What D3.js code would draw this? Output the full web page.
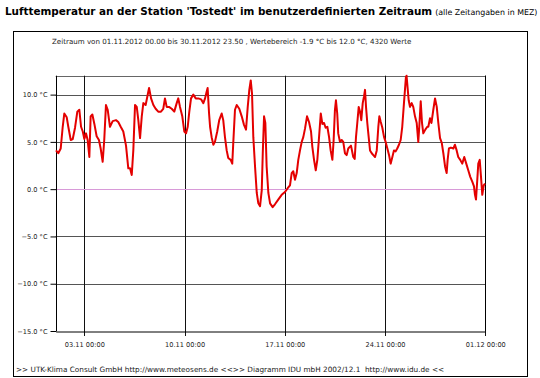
<!DOCTYPE html>
<html>
<head>
<meta charset="utf-8">
<script src="https://cdn.jsdelivr.net/npm/d3@7"></script>
<style>
  body { margin: 0; background: #fff; }
  text { font-family: "DejaVu Sans", Verdana, sans-serif; }
</style>
</head>
<body>
<div id="chart"></div>
<script>
// Lufttemperatur Tostedt, November 2012
const startDatum = new Date(2012, 10, 1, 0, 0);
// Zeit in Tagen seit 01.11.2012 00:00
const tage = [
  0.02, 0.18, 0.35, 0.49, 0.60, 0.77, 0.88, 1.05, 1.19, 1.35, 1.51, 1.65, 1.77, 1.89, 2.00, 2.12,
  2.23, 2.35, 2.44, 2.56, 2.70, 2.86, 3.02, 3.14, 3.28, 3.39, 3.51, 3.63, 3.79, 3.98, 4.21, 4.37,
  4.54, 4.72, 4.91, 5.07, 5.19, 5.31, 5.42, 5.54, 5.66, 5.77, 5.89, 6.01, 6.12, 6.28, 6.40, 6.52,
  6.66, 6.82, 6.98, 7.16, 7.35, 7.51, 7.63, 7.75, 7.91, 8.10, 8.28, 8.45, 8.56, 8.68, 8.84, 8.98,
  9.10, 9.22, 9.33, 9.45, 9.61, 9.78, 9.96, 10.15, 10.31, 10.43, 10.54, 10.61, 10.71, 10.78, 10.89,
  11.01, 11.12, 11.28, 11.42, 11.59, 11.70, 11.82, 11.94, 12.05, 12.22, 12.33, 12.40, 12.52, 12.64,
  12.82, 12.99, 13.15, 13.29, 13.41, 13.52, 13.62, 13.71, 13.80, 13.92, 14.04, 14.15, 14.27, 14.39,
  14.46, 14.55, 14.64, 14.73, 14.85, 14.97, 15.15, 15.31, 15.54, 15.78, 16.01, 16.20, 16.36, 16.48,
  16.59, 16.71, 16.83, 16.94, 17.06, 17.18, 17.29, 17.41, 17.55, 17.69, 17.83, 17.92, 18.04, 18.16,
  18.27, 18.39, 18.51, 18.62, 18.74, 18.85, 18.97, 19.09, 19.20, 19.32, 19.41, 19.50, 19.57, 19.66,
  19.73, 19.85, 19.97, 20.08, 20.20, 20.32, 20.43, 20.62, 20.78, 20.88, 20.97, 21.06, 21.16, 21.25,
  21.34, 21.44, 21.53, 21.60, 21.67, 21.76, 21.83, 21.95, 22.07, 22.18, 22.30, 22.42, 22.53, 22.60,
  22.70, 22.81, 22.93, 23.04, 23.16, 23.28, 23.39, 23.51, 23.62, 23.74, 23.85, 23.97, 24.09, 24.20,
  24.32, 24.39, 24.46, 24.50, 24.57, 24.65, 24.74, 24.86, 24.97, 25.09, 25.21, 25.32, 25.39, 25.49,
  25.58, 25.67, 25.81, 25.95, 26.02, 26.14, 26.24, 26.37, 26.49, 26.61, 26.72, 26.84, 26.96, 27.07,
  27.19, 27.30, 27.37, 27.46, 27.60, 27.77, 27.88, 28.00, 28.11, 28.25, 28.39, 28.53, 28.67, 28.81,
  28.95, 29.09, 29.21, 29.28, 29.35, 29.44, 29.51, 29.61, 29.70, 29.79, 29.89, 29.98
];
// Temperatur in °C
const temperatur = [
  4.1, 3.8, 4.3, 6.6, 8.0, 7.6, 6.6, 5.2, 5.3, 6.5, 8.2, 8.4, 6.6, 6.1, 5.3, 5.9,
  5.2, 3.4, 7.7, 7.9, 6.9, 5.6, 5.2, 4.3, 2.9, 5.2, 8.9, 8.4, 6.6, 7.2, 7.3, 7.1,
  6.6, 6.1, 4.6, 2.2, 2.2, 1.5, 4.1, 8.9, 8.7, 7.3, 5.4, 7.7, 9.1, 8.9, 9.8, 10.7,
  9.6, 8.9, 8.5, 8.2, 8.2, 8.5, 9.6, 8.7, 8.7, 8.5, 8.2, 9.1, 9.6, 8.7, 7.7, 6.1,
  5.9, 6.6, 8.2, 9.6, 10.0, 9.6, 9.6, 9.5, 9.1, 9.6, 10.3, 10.7, 8.0, 6.6, 5.5,
  4.7, 5.0, 6.1, 7.3, 8.0, 7.3, 5.5, 4.1, 3.3, 3.1, 2.7, 4.9, 8.4, 8.9,
  8.5, 7.7, 6.8, 6.3, 8.7, 10.5, 11.5, 10.1, 5.5, 2.4, -0.4, -1.5, -1.8, -0.1,
  3.8, 7.7, 7.0, 2.4, -0.4, -1.5, -1.9, -1.6, -1.1, -0.6, -0.3, 0.1, 0.4, 1.7,
  1.9, 1.0, 1.7, 3.1, 4.1, 5.0, 5.5, 6.4, 7.7, 7.1, 6.1, 4.5, 3.1, 2.0,
  3.1, 5.5, 8.0, 6.9, 7.0, 6.5, 6.6, 5.5, 4.1, 3.1, 5.2, 8.4, 9.4, 8.0,
  5.9, 5.0, 5.2, 5.0, 3.8, 3.6, 4.3, 4.6, 3.4, 3.2, 5.5, 7.0, 8.7, 8.2,
  7.3, 9.1, 9.8, 10.5, 8.7, 7.0, 5.9, 4.1, 3.8, 3.6, 3.4, 4.1, 6.6, 7.7,
  7.1, 6.5, 5.5, 5.0, 4.3, 3.6, 2.7, 3.4, 4.1, 4.0, 4.3, 4.7, 5.2, 6.6,
  9.1, 10.5, 11.9, 12.0, 10.8, 9.4, 8.7, 9.1, 8.7, 7.7, 7.0, 5.0, 6.6, 9.3,
  7.0, 5.9, 6.3, 6.6, 6.6, 7.5, 7.0, 8.4, 9.6, 8.7, 7.0, 5.4, 4.9, 3.8,
  2.4, 1.7, 3.1, 4.3, 4.4, 4.3, 4.7, 4.1, 3.4, 3.1, 2.7, 3.4, 2.7, 2.0,
  1.3, 0.8, 0.3, -0.6, -1.1, 1.0, 2.7, 3.1, 1.3, -0.6, 0.4, 0.6
];
const yTicks = [-15, -10, -5, 0, 5, 10];
const xTickDaten = ["03.11.2012", "10.11.2012", "17.11.2012", "24.11.2012", "01.12.2012"];

const w = 540, h = 378;
const parseDatum = d3.timeParse("%d.%m.%Y");
const daten = tage.map((t, i) => ({
  zeit: new Date(startDatum.getTime() + t * 86400000),
  temp: temperatur[i]
}));

const svg = d3.select("#chart").append("svg")
  .attr("width", w)
  .attr("height", h);

// Titel
const titel = svg.append("text").attr("x", 5).attr("y", 15);
titel.append("tspan")
  .attr("font-size", 10.4).attr("font-weight", "bold")
  .text("Lufttemperatur an der Station 'Tostedt' im benutzerdefinierten Zeitraum");
titel.append("tspan")
  .attr("font-size", 7.9).attr("dx", 3)
  .text("(alle Zeitangaben in MEZ)");

// Rahmen
svg.append("rect")
  .attr("x", 13.5).attr("y", 31.5)
  .attr("width", 514).attr("height", 345)
  .attr("fill", "none").attr("stroke", "#000").attr("stroke-width", 1);

svg.append("text")
  .attr("x", 52).attr("y", 44)
  .attr("font-size", 7.1)
  .attr("fill", "#222")
  .text("Zeitraum von 01.11.2012 00.00 bis 30.11.2012 23.50 , Wertebereich -1.9 °C bis 12.0 °C, 4320 Werte");

const x = d3.scaleTime()
  .domain([startDatum, new Date(2012, 11, 1, 0, 0)])
  .range([55.7, 485.3]);
const y = d3.scaleLinear()
  .domain([-15, 12])
  .range([331, 75.7]);

// Gitter
svg.append("g").selectAll("line.hgrid")
  .data(yTicks.filter(d => d !== 0 && d !== -15))
  .enter().append("line")
  .attr("class", "hgrid")
  .attr("x1", x.range()[0]).attr("x2", x.range()[1])
  .attr("y1", d => Math.round(y(d)) + 0.5).attr("y2", d => Math.round(y(d)) + 0.5)
  .attr("stroke", "#555");

svg.append("line")
  .attr("x1", x.range()[0]).attr("x2", x.range()[1])
  .attr("y1", Math.round(y(12)) + 0.5).attr("y2", Math.round(y(12)) + 0.5)
  .attr("stroke", "#666");

svg.append("g").selectAll("line.vgrid")
  .data(xTickDaten.map(parseDatum))
  .enter().append("line")
  .attr("class", "vgrid")
  .attr("x1", d => Math.round(x(d)) + 0.5).attr("x2", d => Math.round(x(d)) + 0.5)
  .attr("y1", y(12)).attr("y2", y(-15) + 5)
  .attr("stroke", "#111");

// Nulllinie
svg.append("line")
  .attr("x1", x.range()[0]).attr("x2", x.range()[1])
  .attr("y1", Math.round(y(0)) + 0.5).attr("y2", Math.round(y(0)) + 0.5)
  .attr("stroke", "#d89ad8").attr("stroke-width", 1.2);

// Achsen
const yAxis = d3.axisLeft(y)
  .tickValues(yTicks)
  .tickSize(6)
  .tickFormat(d => d3.format(".1f")(d) + " °C");
const gy = svg.append("g")
  .attr("transform", `translate(${Math.round(x.range()[0]) + 0.5},0)`)
  .call(yAxis);
gy.select(".domain").remove();
gy.append("line")
  .attr("y1", y(12)).attr("y2", y(-15))
  .attr("stroke", "#000");
gy.selectAll("text").attr("font-size", 6.6).attr("font-family", "DejaVu Sans").attr("fill", "#222");

const xAxis = d3.axisBottom(x)
  .tickValues(xTickDaten.map(parseDatum))
  .tickSize(0)
  .tickPadding(11)
  .tickFormat(d3.timeFormat("%d.%m %H:%M"));
const gx = svg.append("g")
  .attr("transform", `translate(0,${Math.round(y(-15)) + 0.5})`)
  .call(xAxis);
gx.select(".domain").attr("stroke", "#000");
gx.selectAll("text").attr("font-size", 6.6).attr("font-family", "DejaVu Sans").attr("fill", "#222");

// rechter Rand
svg.append("line")
  .attr("x1", Math.round(x.range()[1]) + 0.5).attr("x2", Math.round(x.range()[1]) + 0.5)
  .attr("y1", y(12)).attr("y2", y(-15))
  .attr("stroke", "#000");

// Messkurve
const linie = d3.line()
  .x(d => x(d.zeit))
  .y(d => y(d.temp));
svg.append("path")
  .datum(daten)
  .attr("d", linie)
  .attr("fill", "none")
  .attr("stroke", "#e40000")
  .attr("stroke-width", 2)
  .attr("stroke-linejoin", "round");

// Fusszeile
svg.append("text")
  .attr("x", 16).attr("y", 372)
  .attr("font-size", 7.3)
  .attr("fill", "#222")
  .attr("xml:space", "preserve")
  .text(">> UTK-Klima Consult GmbH http://www.meteosens.de <<>> Diagramm IDU mbH 2002/12.1  http://www.idu.de <<");
</script>
</body>
</html>
